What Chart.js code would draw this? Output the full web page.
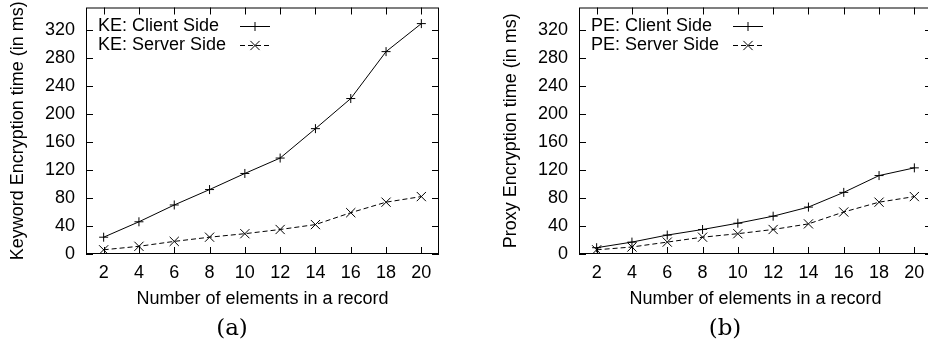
<!DOCTYPE html>
<html><head><meta charset="utf-8">
<script src="https://cdn.jsdelivr.net/npm/chart.js@4.4.1/dist/chart.umd.min.js"></script>
<style>
html,body{margin:0;padding:0;background:#fff;overflow:hidden;width:928px;height:348px;}
.wrap{position:absolute;top:0;width:464px;height:348px;}
canvas{display:block;}
</style></head><body>
<div class="wrap" style="left:0"><canvas id="ca" width="464" height="348"></canvas></div>
<div class="wrap" style="left:493px"><canvas id="cb" width="464" height="348"></canvas></div>
<script>
// ---- data ----
const elements = [2, 4, 6, 8, 10, 12, 14, 16, 18, 20];
const keClient = [24, 46, 70, 92, 115, 137, 179, 222, 289, 329];
const keServer = [6, 11, 18, 24, 29, 35, 42, 59, 74, 82];
const peClient = [9, 17, 27, 35, 44, 54, 67, 88, 112, 123];
const peServer = [6, 10, 17, 24, 29, 35, 43, 60, 74, 82];
const xTicks = [2, 4, 6, 8, 10, 12, 14, 16, 18, 20];
const yTicks = [0, 40, 80, 120, 160, 200, 240, 280, 320];
const xTitle = 'Number of elements in a record';

const SANS = '"Liberation Sans", Arial, sans-serif';
const TICK = 7;

function marker(ctx, style, r, x, y) {
  ctx.beginPath();
  if (style === 'cross') {
    ctx.moveTo(x - r, y); ctx.lineTo(x + r, y);
    ctx.moveTo(x, y - r); ctx.lineTo(x, y + r);
  } else {
    const o = r * Math.SQRT1_2;
    ctx.moveTo(x - o, y - o); ctx.lineTo(x + o, y + o);
    ctx.moveTo(x - o, y + o); ctx.lineTo(x + o, y - o);
  }
  ctx.stroke();
}

const framePlugin = {
  id: 'frame',
  afterDatasetsDraw(chart) {
    const ctx = chart.ctx;
    const {left, right, top, bottom} = chart.chartArea;
    const xs = chart.scales.x, ys = chart.scales.y;
    ctx.save();
    ctx.strokeStyle = '#000';
    ctx.lineWidth = 1;
    ctx.setLineDash([]);
    ctx.strokeRect(left + 0.5, top + 0.5, right - left - 1, bottom - top - 1);
    ctx.beginPath();
    xTicks.forEach(v => {
      const px = Math.round(xs.getPixelForValue(v)) + 0.5;
      ctx.moveTo(px, bottom); ctx.lineTo(px, bottom - TICK);
      ctx.moveTo(px, top); ctx.lineTo(px, top + TICK);
    });
    yTicks.forEach(v => {
      const py = Math.round(ys.getPixelForValue(v)) + 0.5;
      ctx.moveTo(left, py); ctx.lineTo(left + TICK, py);
      ctx.moveTo(right, py); ctx.lineTo(right - TICK, py);
    });
    ctx.stroke();
    // gnuplot-style key: text left, sample on the right
    ctx.font = '18px ' + SANS;
    ctx.fillStyle = '#000';
    ctx.textBaseline = 'middle';
    ctx.textAlign = 'left';
    chart.data.datasets.forEach((ds, i) => {
      const y = top + 18.5 + i * 18.8;
      ctx.fillText(ds.label, left + 12, y);
      ctx.setLineDash(ds.borderDash || []);
      ctx.beginPath();
      ctx.moveTo(left + 154, Math.round(y) + 0.5);
      ctx.lineTo(left + 184, Math.round(y) + 0.5);
      ctx.stroke();
      ctx.setLineDash([]);
      marker(ctx, ds.pointStyle, ds.pointRadius, left + 169, Math.round(y) + 0.5);
    });
    ctx.restore();
  }
};

function makeChart(id, yTitle, caption, labels, client, server) {
  new Chart(document.getElementById(id), {
    type: 'line',
    data: {
      datasets: [
        { label: labels[0], data: elements.map((x, i) => ({x, y: client[i]})),
          borderColor: '#000', borderWidth: 1, pointStyle: 'cross', pointRadius: 4.5,
          pointBorderColor: '#000', pointBorderWidth: 1, fill: false, tension: 0 },
        { label: labels[1], data: elements.map((x, i) => ({x, y: server[i]})),
          borderColor: '#000', borderWidth: 1, borderDash: [5, 3], pointStyle: 'crossRot', pointRadius: 6.5,
          pointBorderColor: '#000', pointBorderWidth: 1, fill: false, tension: 0 }
      ]
    },
    options: {
      responsive: false, animation: false, devicePixelRatio: 1,
      layout: { padding: { top: 5, right: 0, left: 0, bottom: 0 } },
      plugins: {
        legend: { display: false }, tooltip: { enabled: false },
        title: { display: true, position: 'bottom', text: caption, color: '#000',
          font: { family: '"DejaVu Serif", serif', size: 23, weight: 'normal' },
          padding: { top: 0, bottom: 5.2 } }
      },
      scales: {
        x: {
          type: 'linear', min: 1, max: 21,
          grid: { display: false, drawTicks: false }, border: { display: false },
          ticks: { color: '#000', font: { family: SANS, size: 18 }, padding: 8.2, maxRotation: 0, autoSkip: false,
            callback: v => String(v) },
          title: { display: true, text: xTitle, color: '#000', font: { family: SANS, size: 18 }, padding: { top: 0, bottom: 5.6 } },
          afterBuildTicks: s => { s.ticks = xTicks.map(v => ({ value: v })); },
          afterFit: s => { s.height = 61.2; s.paddingLeft = 0; s.paddingRight = 0; s.paddingTop = 0; s.paddingBottom = 0; }
        },
        y: {
          type: 'linear', min: 0, max: 352,
          grid: { display: false, drawTicks: false }, border: { display: false },
          ticks: { color: '#000', font: { family: SANS, size: 18 }, padding: 11, autoSkip: false,
            callback: v => String(v) },
          title: { display: true, text: yTitle, color: '#000', font: { family: SANS, size: 18 }, padding: { top: 7.5, bottom: 0 } },
          afterBuildTicks: s => { s.ticks = yTicks.map(v => ({ value: v })); },
          afterFit: s => { s.width = 86; s.paddingLeft = 0; s.paddingRight = 0; s.paddingTop = 0; s.paddingBottom = 0; }
        },
        yr: {
          position: 'right', display: true, min: 0, max: 1,
          grid: { display: false, drawTicks: false }, border: { display: false },
          ticks: { display: false },
          afterFit: s => { s.width = 25; s.paddingLeft = 0; s.paddingRight = 0; s.paddingTop = 0; s.paddingBottom = 0; }
        }
      }
    },
    plugins: [framePlugin]
  });
}

makeChart('ca', 'Keyword Encryption time (in ms)', '(a)', ['KE: Client Side', 'KE: Server Side'], keClient, keServer);
makeChart('cb', 'Proxy Encryption time (in ms)', '(b)', ['PE: Client Side', 'PE: Server Side'], peClient, peServer);
</script>
</body></html>
